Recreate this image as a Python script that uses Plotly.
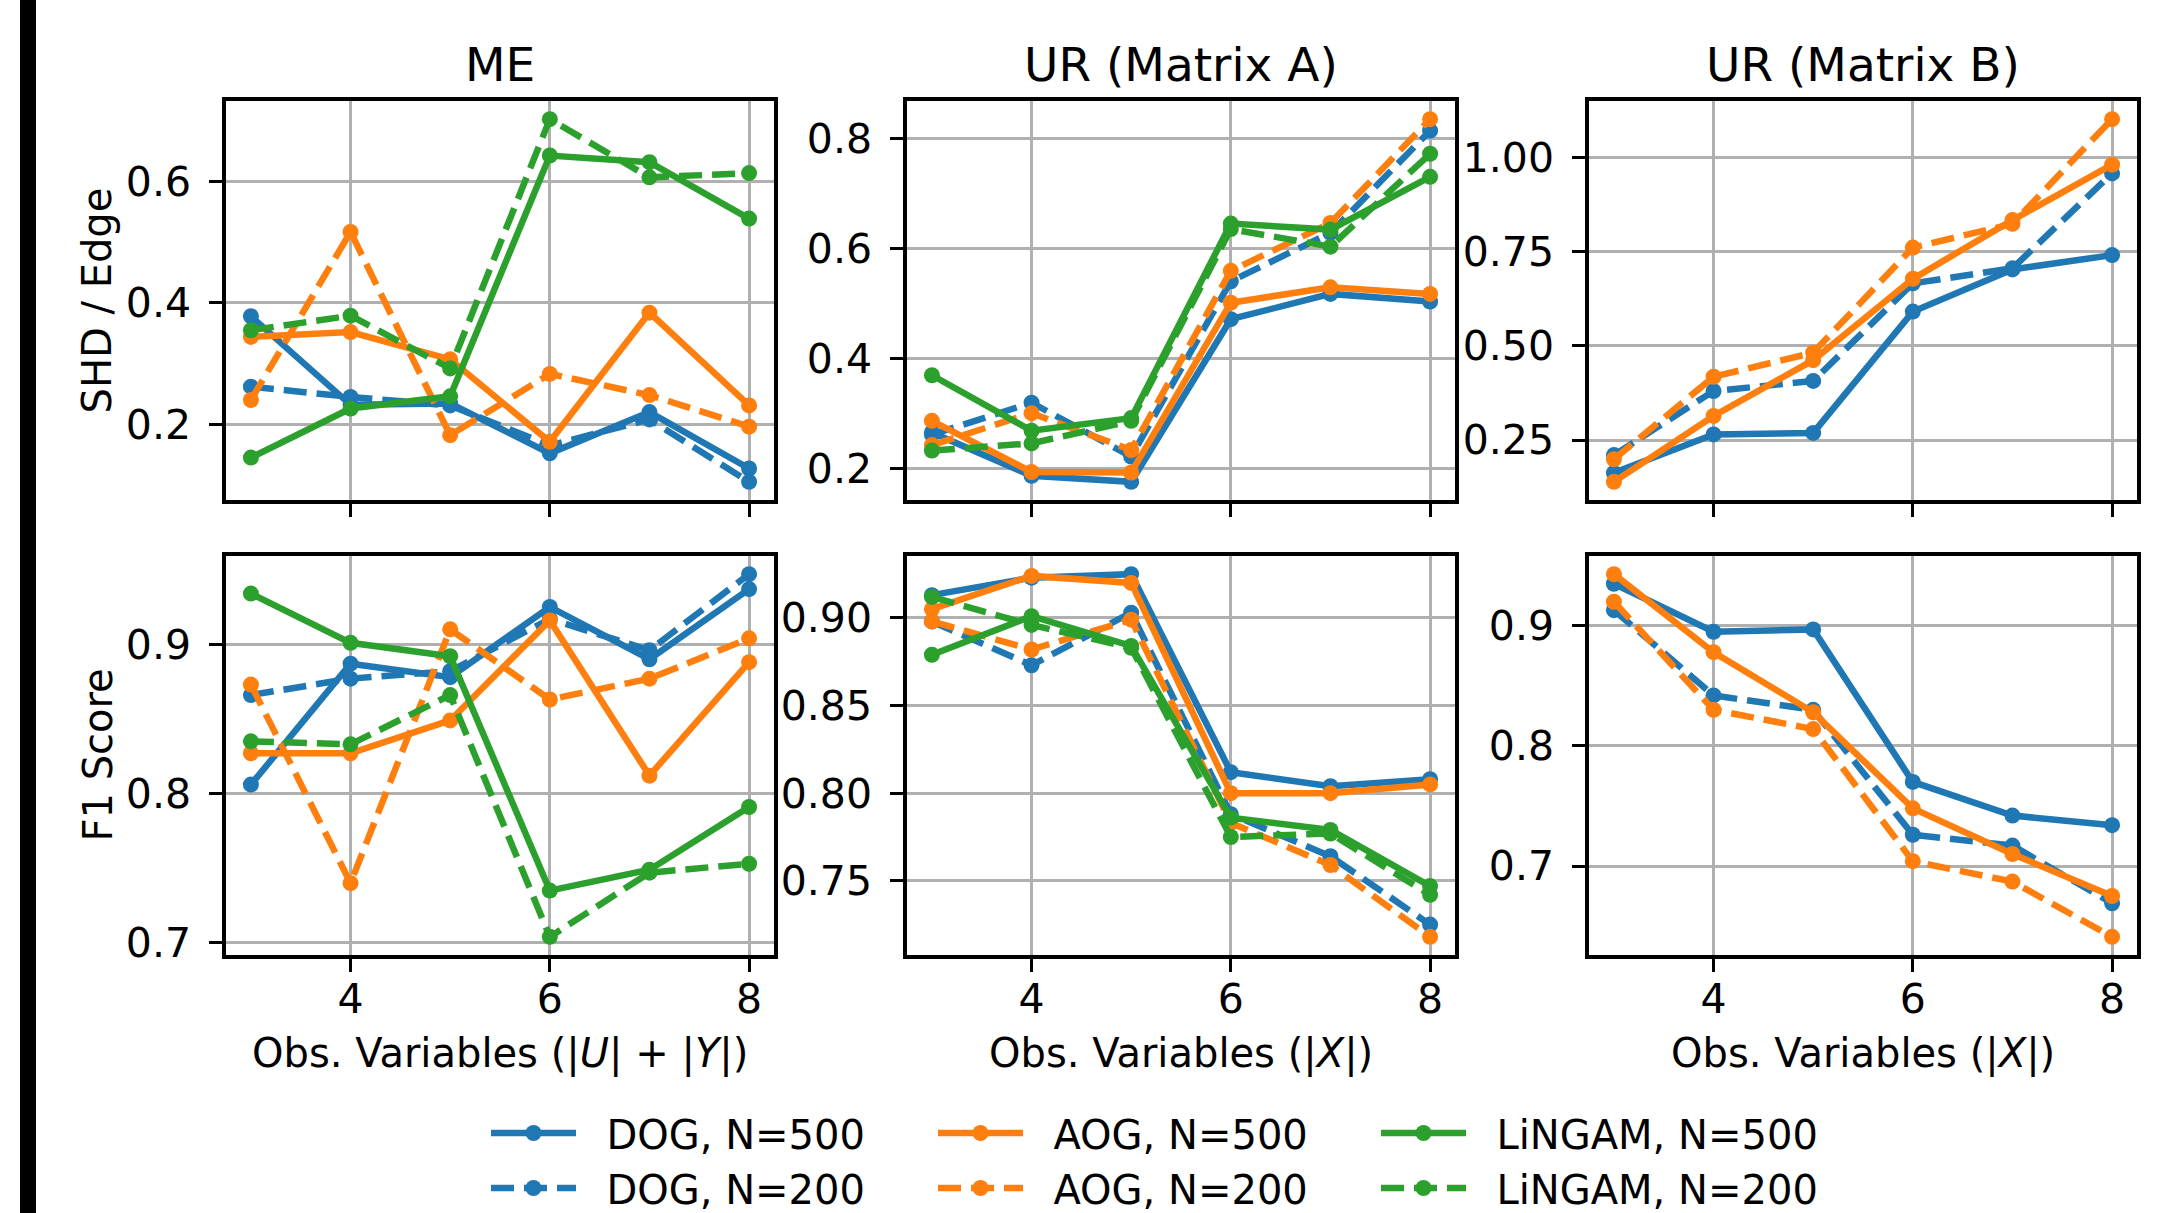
import plotly.graph_objects as go

# ---------------- data ----------------
obs_vars = [3, 4, 5, 6, 7, 8]

# ME - SHD / Edge
me_shd_dog500 = [0.378, 0.232, 0.234, 0.152, 0.220, 0.127]
me_shd_dog200 = [0.262, 0.245, 0.231, 0.165, 0.208, 0.105]
me_shd_aog500 = [0.344, 0.352, 0.307, 0.171, 0.384, 0.231]
me_shd_aog200 = [0.240, 0.517, 0.182, 0.283, 0.248, 0.196]
me_shd_lingam500 = [0.145, 0.226, 0.246, 0.643, 0.632, 0.539]
me_shd_lingam200 = [0.355, 0.379, 0.292, 0.703, 0.607, 0.614]

# UR (Matrix A) - SHD / Edge
ura_shd_dog500 = [0.266, 0.187, 0.176, 0.472, 0.518, 0.504]
ura_shd_dog200 = [0.262, 0.320, 0.222, 0.541, 0.629, 0.815]
ura_shd_aog500 = [0.287, 0.194, 0.193, 0.502, 0.530, 0.518]
ura_shd_aog200 = [0.243, 0.301, 0.234, 0.560, 0.647, 0.836]
ura_shd_lingam500 = [0.370, 0.269, 0.292, 0.646, 0.635, 0.731]
ura_shd_lingam200 = [0.233, 0.246, 0.287, 0.636, 0.604, 0.773]

# UR (Matrix B) - SHD / Edge
urb_shd_dog500 = [0.163, 0.265, 0.269, 0.591, 0.703, 0.741]
urb_shd_dog200 = [0.210, 0.380, 0.407, 0.666, 0.706, 0.958]
urb_shd_aog500 = [0.139, 0.314, 0.462, 0.678, 0.834, 0.981]
urb_shd_aog200 = [0.199, 0.418, 0.482, 0.761, 0.824, 1.102]

# ME - F1
me_f1_dog500 = [0.806, 0.887, 0.878, 0.925, 0.890, 0.937]
me_f1_dog200 = [0.866, 0.877, 0.882, 0.917, 0.896, 0.947]
me_f1_aog500 = [0.827, 0.827, 0.849, 0.916, 0.812, 0.888]
me_f1_aog200 = [0.873, 0.740, 0.910, 0.863, 0.877, 0.904]
me_f1_lingam500 = [0.934, 0.901, 0.892, 0.735, 0.749, 0.791]
me_f1_lingam200 = [0.835, 0.833, 0.866, 0.704, 0.747, 0.753]

# UR (Matrix A) - F1
ura_f1_dog500 = [0.913, 0.923, 0.925, 0.812, 0.804, 0.808]
ura_f1_dog200 = [0.898, 0.873, 0.903, 0.788, 0.764, 0.725]
ura_f1_aog500 = [0.905, 0.924, 0.920, 0.800, 0.800, 0.805]
ura_f1_aog200 = [0.898, 0.882, 0.899, 0.783, 0.759, 0.718]
ura_f1_lingam500 = [0.879, 0.901, 0.884, 0.786, 0.779, 0.747]
ura_f1_lingam200 = [0.912, 0.896, 0.883, 0.775, 0.777, 0.742]

# UR (Matrix B) - F1
urb_f1_dog500 = [0.935, 0.895, 0.897, 0.770, 0.742, 0.734]
urb_f1_dog200 = [0.913, 0.842, 0.830, 0.726, 0.717, 0.669]
urb_f1_aog500 = [0.943, 0.878, 0.828, 0.748, 0.710, 0.675]
urb_f1_aog200 = [0.920, 0.830, 0.814, 0.704, 0.687, 0.641]

panel_titles = ["ME", "UR (Matrix A)", "UR (Matrix B)"]
x_titles = ["Obs. Variables (|<i>U</i>| + |<i>Y</i>|)",
            "Obs. Variables (|<i>X</i>|)",
            "Obs. Variables (|<i>X</i>|)"]
y_titles = ["SHD / Edge", "F1 Score"]
x_tickvals = [4, 6, 8]

# ---------------- styling ----------------
W, H = 2165, 1213
FONT = "DejaVu Sans"
C_DOG, C_AOG, C_LIN = "#1f77b4", "#ff7f0e", "#2ca02c"
DASH = "23px,10px"
GAP = "\u00a0\u00a0"

# name -> (colour, dash, legend id, legend x px, legend row-centre y px)
series_style = {
    "DOG, N=500": (C_DOG, "solid", "legend", 486, 1133),
    "DOG, N=200": (C_DOG, DASH, "legend2", 486, 1188),
    "AOG, N=500": (C_AOG, "solid", "legend3", 933, 1133),
    "AOG, N=200": (C_AOG, DASH, "legend4", 933, 1188),
    "LiNGAM, N=500": (C_LIN, "solid", "legend5", 1376, 1133),
    "LiNGAM, N=200": (C_LIN, DASH, "legend6", 1376, 1188),
}

panels = [
    [("DOG, N=500", me_shd_dog500), ("DOG, N=200", me_shd_dog200),
     ("AOG, N=500", me_shd_aog500), ("AOG, N=200", me_shd_aog200),
     ("LiNGAM, N=500", me_shd_lingam500), ("LiNGAM, N=200", me_shd_lingam200)],
    [("DOG, N=500", ura_shd_dog500), ("DOG, N=200", ura_shd_dog200),
     ("AOG, N=500", ura_shd_aog500), ("AOG, N=200", ura_shd_aog200),
     ("LiNGAM, N=500", ura_shd_lingam500), ("LiNGAM, N=200", ura_shd_lingam200)],
    [("DOG, N=500", urb_shd_dog500), ("DOG, N=200", urb_shd_dog200),
     ("AOG, N=500", urb_shd_aog500), ("AOG, N=200", urb_shd_aog200)],
    [("DOG, N=500", me_f1_dog500), ("DOG, N=200", me_f1_dog200),
     ("AOG, N=500", me_f1_aog500), ("AOG, N=200", me_f1_aog200),
     ("LiNGAM, N=500", me_f1_lingam500), ("LiNGAM, N=200", me_f1_lingam200)],
    [("DOG, N=500", ura_f1_dog500), ("DOG, N=200", ura_f1_dog200),
     ("AOG, N=500", ura_f1_aog500), ("AOG, N=200", ura_f1_aog200),
     ("LiNGAM, N=500", ura_f1_lingam500), ("LiNGAM, N=200", ura_f1_lingam200)],
    [("DOG, N=500", urb_f1_dog500), ("DOG, N=200", urb_f1_dog200),
     ("AOG, N=500", urb_f1_aog500), ("AOG, N=200", urb_f1_aog200)],
]
y_dticks = [0.2, 0.2, 0.25, 0.1, 0.05, 0.1]
y_formats = [".1f", ".1f", ".2f", ".1f", ".2f", ".1f"]

# panel pixel boxes (left, right) and (top, bottom)
col_px = [(226, 774), (907, 1455), (1589, 2137)]
row_px = [(101, 500), (556, 955)]


def padded(vals):
    lo, hi = min(vals), max(vals)
    m = 0.05 * (hi - lo)
    return [lo - m, hi + m]


fig = go.Figure()
layout = {}
shown = set()
for i, series in enumerate(panels):
    r, c = divmod(i, 3)
    ax = "" if i == 0 else str(i + 1)
    for name, vals in series:
        color, dash, leg, _, _ = series_style[name]
        show = name not in shown
        shown.add(name)
        fig.add_trace(go.Scatter(
            x=obs_vars, y=vals, name=GAP + name, mode="lines+markers",
            line=dict(color=color, width=6.5, dash=dash),
            marker=dict(color=color, size=16, symbol="circle", line=dict(width=0)),
            xaxis="x" + ax, yaxis="y" + ax, legendgroup=name,
            showlegend=show, legend=leg,
        ))
    allvals = [v for _, s in series for v in s]
    x0, x1 = col_px[c]
    y0, y1 = row_px[r]
    common = dict(showline=True, linecolor="black", linewidth=3.5, mirror=True,
                  ticks="outside", ticklen=13, tickwidth=3, tickcolor="black",
                  showgrid=True, gridcolor="#b0b0b0", gridwidth=2.5,
                  zeroline=False,
                  tickfont=dict(family=FONT, size=41, color="black"))
    layout["xaxis" + ax] = dict(
        common, domain=[x0 / W, x1 / W], anchor="y" + ax,
        range=padded(obs_vars), tickvals=x_tickvals,
        showticklabels=(r == 1), ticklabelstandoff=-8)
    layout["yaxis" + ax] = dict(
        common, domain=[1 - y1 / H, 1 - y0 / H], anchor="x" + ax,
        range=padded(allvals), dtick=y_dticks[i], tick0=0,
        tickformat=y_formats[i], ticklabelstandoff=10)

annotations = []
for c in range(3):
    cx = (col_px[c][0] + col_px[c][1]) / 2 / W
    annotations.append(dict(text=panel_titles[c], x=cx, y=1 - 64 / H,
                            xref="paper", yref="paper", showarrow=False,
                            xanchor="center", yanchor="middle",
                            font=dict(family=FONT, size=47, color="black")))
    annotations.append(dict(text=x_titles[c], x=cx, y=1 - 1053 / H,
                            xref="paper", yref="paper", showarrow=False,
                            xanchor="center", yanchor="middle",
                            font=dict(family=FONT, size=40, color="black")))
for r in range(2):
    cy = 1 - (row_px[r][0] + row_px[r][1]) / 2 / H
    annotations.append(dict(text=y_titles[r], x=97 / W, y=cy, textangle=-90,
                            xref="paper", yref="paper", showarrow=False,
                            xanchor="center", yanchor="middle",
                            font=dict(family=FONT, size=40, color="black")))

for name, (_, _, leg, lx, ly) in series_style.items():
    layout[leg] = dict(orientation="h", x=lx / W, xanchor="left",
                       y=1 - ly / H, yanchor="middle",
                       font=dict(family=FONT, size=40, color="black"),
                       itemwidth=85, bgcolor="rgba(0,0,0,0)")

layout.update(
    width=W, height=H,
    margin=dict(l=0, r=0, t=0, b=0, autoexpand=False),
    paper_bgcolor="white", plot_bgcolor="white",
    font=dict(family=FONT, size=41, color="black"),
    annotations=annotations,
    shapes=[dict(type="rect", xref="paper", yref="paper",
                 x0=20 / W, x1=36 / W, y0=0, y1=1,
                 fillcolor="black", line=dict(width=0), layer="above")],
    showlegend=True,
)
fig.update_layout(layout)
fig.write_html("out.html", config={"displayModeBar": False},
               post_script="document.body.style.margin='0px';")
